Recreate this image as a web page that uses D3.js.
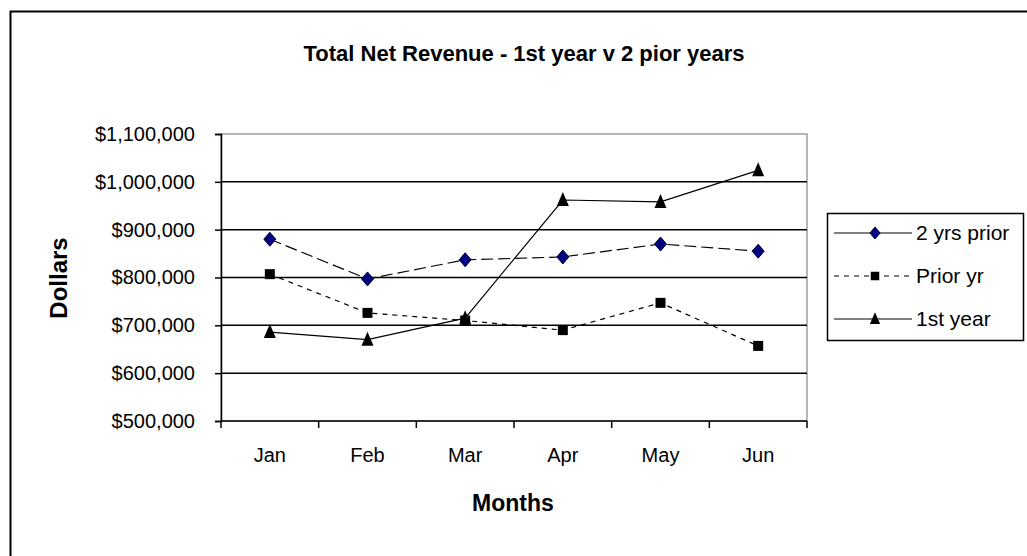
<!DOCTYPE html>
<html>
<head>
<meta charset="utf-8">
<script src="https://cdn.jsdelivr.net/npm/d3@7"></script>
<style>
  body { margin: 0; background: #fff; }
  text { font-family: "Liberation Sans", Arial, sans-serif; fill: #000; }
</style>
</head>
<body>
<div id="chart"></div>
<script>
const months = ["Jan", "Feb", "Mar", "Apr", "May", "Jun"];
const twoYrsPrior = [880000, 797000, 837000, 843000, 870000, 855000];
const priorYr = [807000, 726000, 710000, 690000, 747000, 657000];
const firstYear = [686000, 670000, 715000, 962000, 958000, 1024000];
const yTicks = [500000, 600000, 700000, 800000, 900000, 1000000, 1100000];
const seriesNames = ["2 yrs prior", "Prior yr", "1st year"];

const margin = { top: 134, right: 220, bottom: 135, left: 221 },
  W = 1027, H = 556,
  width = W - margin.left - margin.right,
  height = H - margin.top - margin.bottom;

const svg = d3.select("#chart")
  .append("svg")
  .attr("width", W)
  .attr("height", H);

// outer chart frame (only top/left edges visible)
svg.append("path")
  .attr("d", `M10.5,${H + 2} V11.5 H${W + 2}`)
  .attr("fill", "none")
  .attr("stroke", "#000")
  .attr("stroke-width", 2);

const g = svg.append("g")
  .attr("transform", `translate(${margin.left}, ${margin.top})`);

const x = d3.scaleBand()
  .domain(months)
  .range([0, width]);

const y = d3.scaleLinear()
  .domain([500000, 1100000])
  .range([height, 0]);

// plot area border (gray)
g.append("rect")
  .attr("x", 0).attr("y", 0)
  .attr("width", width).attr("height", height)
  .attr("fill", "none")
  .attr("stroke", "#a0a0a0")
  .attr("stroke-width", 1.5);

// gridlines
g.append("g")
  .selectAll("line")
  .data(yTicks.filter(d => d < 1100000 && d > 500000))
  .join("line")
  .attr("x1", 0).attr("x2", width)
  .attr("y1", d => y(d)).attr("y2", d => y(d))
  .attr("stroke", "#000")
  .attr("stroke-width", 1.5);

// y axis
const yAxis = g.append("g")
  .call(d3.axisLeft(y).tickValues(yTicks).tickSize(6).tickPadding(20)
    .tickFormat(d => "$" + d3.format(",")(d)));
yAxis.select(".domain").attr("stroke-width", 1.5);
yAxis.selectAll(".tick line").attr("stroke-width", 1.5);
yAxis.selectAll("text")
  .style("font-size", "20px")
  .attr("font-family", null);

// x axis with ticks at category boundaries
const xAxis = g.append("g")
  .attr("transform", `translate(0, ${height})`)
  .call(d3.axisBottom(x).tickSize(0).tickPadding(27));
xAxis.select(".domain").remove();
xAxis.selectAll("text")
  .style("font-size", "20px")
  .attr("font-family", null);
g.append("line")
  .attr("x1", 0).attr("x2", width)
  .attr("y1", height).attr("y2", height)
  .attr("stroke", "#000").attr("stroke-width", 1.5);
g.append("g")
  .selectAll("line")
  .data(d3.range(months.length + 1))
  .join("line")
  .attr("x1", i => i * x.bandwidth()).attr("x2", i => i * x.bandwidth())
  .attr("y1", height).attr("y2", height + 7)
  .attr("stroke", "#000").attr("stroke-width", 1.5);

// titles
svg.append("text")
  .attr("x", 524).attr("y", 61)
  .attr("text-anchor", "middle")
  .style("font-size", "22px").style("font-weight", "bold")
  .text("Total Net Revenue - 1st year v 2 pior years");

svg.append("text")
  .attr("x", 513).attr("y", 511)
  .attr("text-anchor", "middle")
  .style("font-size", "23px").style("font-weight", "bold")
  .text("Months");

svg.append("text")
  .attr("transform", "translate(67, 278) rotate(-90)")
  .attr("text-anchor", "middle")
  .style("font-size", "24px").style("font-weight", "bold")
  .text("Dollars");

// series
const series = [
  { name: seriesNames[0], values: twoYrsPrior, dash: "12,5", legendDash: null, marker: "diamond" },
  { name: seriesNames[1], values: priorYr, dash: "5,5", legendDash: "5,5", marker: "square" },
  { name: seriesNames[2], values: firstYear, dash: null, legendDash: null, marker: "triangle" }
];

const line = d3.line()
  .x((d, i) => x(months[i]) + x.bandwidth() / 2)
  .y(d => y(d));

function drawMarker(sel, type, s) {
  s = s || 1;
  if (type === "diamond") {
    sel.append("path")
      .attr("d", `M0,${-7 * s} L${6 * s},0 L0,${7 * s} L${-6 * s},0 Z`)
      .attr("fill", "#000080")
      .attr("stroke", "#000033")
      .attr("stroke-width", 1);
  } else if (type === "square") {
    sel.append("rect")
      .attr("x", -5 * s).attr("y", -5 * s)
      .attr("width", 10 * s).attr("height", 10 * s)
      .attr("fill", "#000");
  } else {
    sel.append("path")
      .attr("d", `M0,${-8 * s} L${6 * s},${6 * s} L${-6 * s},${6 * s} Z`)
      .attr("fill", "#000");
  }
}

series.forEach(s => {
  g.append("path")
    .datum(s.values)
    .attr("fill", "none")
    .attr("stroke", "#000")
    .attr("stroke-width", 1.2)
    .attr("stroke-dasharray", s.dash)
    .attr("d", line);
});

series.forEach(s => {
  g.append("g")
    .selectAll("g")
    .data(s.values)
    .join("g")
    .attr("transform", (d, i) => `translate(${x(months[i]) + x.bandwidth() / 2}, ${y(d)})`)
    .each(function () { drawMarker(d3.select(this), s.marker); });
});

// legend
const legend = svg.append("g")
  .attr("transform", "translate(827, 213)");
legend.append("rect")
  .attr("x", 0.5).attr("y", 0.5)
  .attr("width", 196).attr("height", 127)
  .attr("fill", "#fff")
  .attr("stroke", "#000")
  .attr("stroke-width", 1.5);

const rows = legend.selectAll("g.row")
  .data(series)
  .join("g")
  .attr("class", "row")
  .attr("transform", (d, i) => `translate(0, ${20 + i * 43})`);
rows.append("line")
  .attr("x1", 7).attr("x2", 85)
  .attr("stroke", "#000")
  .attr("stroke-width", 1.2)
  .attr("stroke-dasharray", d => d.legendDash);
rows.append("g")
  .attr("transform", "translate(48, 0)")
  .each(function (d) { drawMarker(d3.select(this), d.marker, 0.85); });
rows.append("text")
  .attr("x", 89).attr("y", 7)
  .style("font-size", "21px")
  .text(d => d.name);
</script>
</body>
</html>
